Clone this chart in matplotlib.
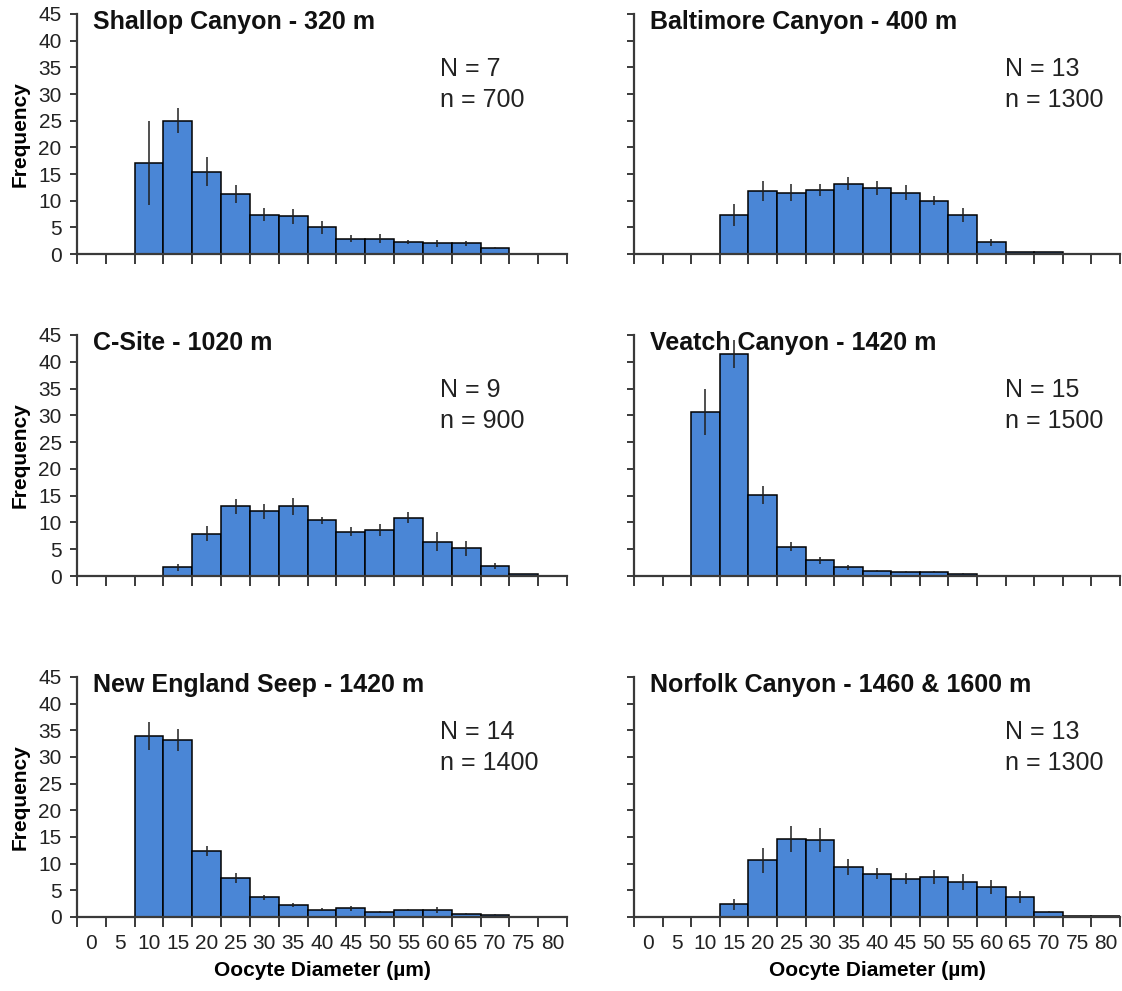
import matplotlib
matplotlib.use("Agg")
import matplotlib.pyplot as plt
import numpy as np

plt.rcParams['font.family'] = ['Liberation Sans', 'DejaVu Sans']

# oocyte diameter categories (um)
diam = [0, 5, 10, 15, 20, 25, 30, 35, 40, 45, 50, 55, 60, 65, 70, 75, 80]

# mean frequency and error per site
shallop_x = [10, 15, 20, 25, 30, 35, 40, 45, 50, 55, 60, 65, 70]
shallop_y = [17.0, 25.0, 15.4, 11.3, 7.4, 7.1, 5.0, 2.9, 2.9, 2.2, 2.0, 2.0, 1.2]
shallop_e = [7.9, 2.4, 2.7, 1.7, 1.3, 1.4, 1.2, 0.7, 0.8, 0.4, 0.7, 0.5, 0.2]

baltimore_x = [15, 20, 25, 30, 35, 40, 45, 50, 55, 60, 65, 70]
baltimore_y = [7.3, 11.8, 11.5, 12.0, 13.2, 12.3, 11.5, 10.0, 7.3, 2.2, 0.3, 0.3]
baltimore_e = [2.1, 1.8, 1.6, 1.2, 1.2, 1.3, 1.4, 0.9, 1.3, 0.7, 0.0, 0.0]

csite_x = [15, 20, 25, 30, 35, 40, 45, 50, 55, 60, 65, 70, 75]
csite_y = [1.6, 7.9, 13.0, 12.1, 13.0, 10.4, 8.3, 8.6, 10.9, 6.4, 5.2, 1.9, 0.3]
csite_e = [0.6, 1.4, 1.4, 1.4, 1.6, 0.7, 0.8, 1.2, 1.0, 1.8, 1.4, 0.6, 0.0]

veatch_x = [10, 15, 20, 25, 30, 35, 40, 45, 50, 55]
veatch_y = [30.7, 41.5, 15.1, 5.5, 2.9, 1.6, 1.0, 0.75, 0.75, 0.4]
veatch_e = [4.3, 2.6, 1.7, 0.8, 0.7, 0.5, 0.2, 0.1, 0.1, 0.1]

seep_x = [10, 15, 20, 25, 30, 35, 40, 45, 50, 55, 60, 65, 70]
seep_y = [34.0, 33.2, 12.4, 7.3, 3.7, 2.2, 1.4, 1.6, 1.0, 1.3, 1.3, 0.6, 0.4]
seep_e = [2.6, 2.1, 1.0, 1.0, 0.5, 0.4, 0.2, 0.4, 0.2, 0.2, 0.5, 0.1, 0.1]

norfolk_x = [15, 20, 25, 30, 35, 40, 45, 50, 55, 60, 65, 70, 75, 80]
norfolk_y = [2.4, 10.6, 14.6, 14.4, 9.3, 8.1, 7.2, 7.5, 6.6, 5.7, 3.7, 0.9, 0.25, 0.25]
norfolk_e = [1.0, 2.3, 2.5, 2.2, 1.5, 1.0, 1.1, 1.3, 1.5, 1.3, 1.1, 0.2, 0.0, 0.0]

titles = ["Shallop Canyon - 320 m", "Baltimore Canyon - 400 m",
          "C-Site - 1020 m", "Veatch Canyon - 1420 m",
          "New England Seep - 1420 m", "Norfolk Canyon - 1460 & 1600 m"]
N_vals = [7, 13, 9, 15, 14, 13]
n_vals = [700, 1300, 900, 1500, 1400, 1300]

series = [(shallop_x, shallop_y, shallop_e), (baltimore_x, baltimore_y, baltimore_e),
          (csite_x, csite_y, csite_e), (veatch_x, veatch_y, veatch_e),
          (seep_x, seep_y, seep_e), (norfolk_x, norfolk_y, norfolk_e)]

bar_color = '#4a86d6'
axis_color = '#3a3a3a'

fig = plt.figure(figsize=(11.22, 9.91), dpi=100)

W, H = 1122, 991
col_left = [77, 634]
col_right = [567, 1120]
row_top = [14, 335, 677]
row_bot = [254, 576, 917]

for k, (xs, ys, es) in enumerate(series):
    r, c = divmod(k, 2)
    ax = fig.add_axes([col_left[c] / W, 1 - row_bot[r] / H,
                       (col_right[c] - col_left[c]) / W, (row_bot[r] - row_top[r]) / H])
    ax.bar(xs, ys, width=5, color=bar_color, edgecolor='black', linewidth=1.1, zorder=2)
    ax.errorbar(xs, ys, yerr=es, fmt='none', ecolor='#202020', elinewidth=1.1,
                capsize=0, zorder=3)

    ax.set_xlim(diam[0] - 2.5, diam[-1] + 2.5)
    ax.set_ylim(0, 45)
    ax.set_yticks(np.arange(0, 46, 5))
    for s in ['top', 'right']:
        ax.spines[s].set_visible(False)
    for s in ['left', 'bottom']:
        ax.spines[s].set_color(axis_color)
        ax.spines[s].set_linewidth(1.6)
        ax.spines[s].set_zorder(4)

    ax.set_xticks(diam)
    ax.set_xticks(np.array(diam + [diam[-1] + 5]) - 2.5, minor=True)
    ax.tick_params(axis='x', which='major', length=0, labelsize=15, pad=12, colors='#222222')
    ax.tick_params(axis='x', which='minor', length=7, width=1.4, color=axis_color, direction='out')
    ax.tick_params(axis='y', length=5, width=1.4, color=axis_color, direction='out',
                   labelsize=15, labelcolor='#222222', pad=6)

    if r < 2:
        ax.set_xticklabels([])
    else:
        ax.set_xlabel("Oocyte Diameter (µm)", fontsize=15, fontweight='bold', labelpad=6)
    if c == 1:
        ax.set_yticklabels([])
    else:
        ax.set_ylabel("Frequency", fontsize=15, fontweight='bold', labelpad=6)

    ax.text(0.032, 0.967, titles[k], transform=ax.transAxes, fontsize=18,
            fontweight='bold', ha='left', va='center', color='#111111')
    tx = 0.741 if c == 0 else 0.763
    ax.text(tx, 0.771, f"N = {N_vals[k]}", transform=ax.transAxes, fontsize=18,
            ha='left', va='center', color='#222222')
    ax.text(tx, 0.642, f"n = {n_vals[k]}", transform=ax.transAxes, fontsize=18,
            ha='left', va='center', color='#222222')

fig.savefig("out.png", dpi=100)
